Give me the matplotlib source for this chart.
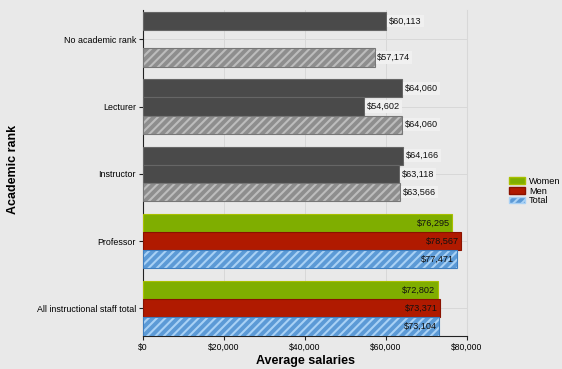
import numpy as np
import matplotlib.pyplot as plt
from matplotlib.patches import Patch

# data
categories = ['No academic rank', 'Lecturer', 'Instructor', 'Professor',
              'All instructional staff total']
women = [60113, 64060, 64166, 76295, 72802]
men = [np.nan, 54602, 63118, 78567, 73371]
total = [57174, 64060, 63566, 77471, 73104]
highlighted = [False, False, False, True, True]
x_ticks = [0, 20000, 40000, 60000, 80000]

bg = '#e9e9e9'
plt.rcParams['font.family'] = ['Liberation Sans', 'DejaVu Sans']
plt.rcParams['hatch.linewidth'] = 1.5

fig = plt.figure(figsize=(5.62, 3.69), dpi=100, facecolor=bg)
ax = fig.add_axes([143 / 562, 33 / 369, 324 / 562, 326 / 369], facecolor=bg)

h = 0.27
y = np.arange(len(categories))

def label(val, ypos, inside):
    txt = '${:,.0f}'.format(val)
    if inside:
        ax.text(val - 600, ypos, txt, ha='right', va='center', fontsize=6.6, color='#111111', zorder=5)
    else:
        ax.text(val + 700, ypos, txt, ha='left', va='center', fontsize=6.6, color='#111111', zorder=5,
                bbox=dict(boxstyle='square,pad=0.2', fc='#f0f0f0', ec='none'))

for i, cat in enumerate(categories):
    hi = highlighted[i]
    c_w = '#7fae00' if hi else '#4a4a4a'
    c_m = '#b01a00' if hi else '#4a4a4a'
    c_t = '#5c9ad6' if hi else '#8e8e8e'
    c_th = '#a9d1f5' if hi else '#bdbdbd'
    e_w = '#a8c000' if hi else '#666666'
    e_m = '#8a1200' if hi else '#666666'
    e_t = '#3f7fc0' if hi else '#777777'

    ax.barh(y[i] - h, women[i], height=h, color=c_w, edgecolor=e_w, lw=0.8, zorder=3)
    if not np.isnan(men[i]):
        ax.barh(y[i], men[i], height=h, color=c_m, edgecolor=e_m, lw=0.8, zorder=3)
    ax.barh(y[i] + h, total[i], height=h, color=c_t, edgecolor=c_th, hatch='////', lw=0, zorder=3)
    ax.barh(y[i] + h, total[i], height=h, fill=False, edgecolor=e_t, lw=0.8, zorder=4)

    label(women[i], y[i] - h, hi)
    if not np.isnan(men[i]):
        label(men[i], y[i], hi)
    label(total[i], y[i] + h, hi)

ax.set_xlim(0, 80000)
ax.set_ylim(len(categories) - 1 + 1.5 * h + 0.005, -1.5 * h - 0.03)
ax.set_yticks(y)
ax.set_yticklabels(categories, fontsize=6.4)
ax.set_xticks(x_ticks)
ax.set_xticklabels(['${:,.0f}'.format(v) for v in x_ticks], fontsize=6.2)
ax.tick_params(axis='both', length=3, width=0.8, color='#222222', pad=2)

ax.grid(True, color='#d8d8d8', lw=0.7, zorder=0)
ax.spines['top'].set_visible(False)
ax.spines['right'].set_color('#d8d8d8')
ax.spines['left'].set_color('#222222')
ax.spines['bottom'].set_color('#222222')

fig.text(305 / 562, 1 - 361 / 369, 'Average salaries', ha='center', va='center',
         fontsize=9, fontweight='bold')
fig.text(13 / 562, 1 - 169 / 369, 'Academic rank', rotation=90, ha='center', va='center',
         fontsize=9, fontweight='bold')

handles = [Patch(facecolor='#7fae00', edgecolor='#a8c000', label='Women'),
           Patch(facecolor='#b01a00', edgecolor='#8a1200', label='Men'),
           Patch(facecolor='#5c9ad6', edgecolor='#a9d1f5', hatch='////', label='Total')]
fig.legend(handles=handles, loc='center left', bbox_to_anchor=(505 / 562, 1 - 191 / 369),
           frameon=False, fontsize=6.6, handlelength=1.8, handleheight=0.7,
           labelspacing=0.1, handletextpad=0.4, borderaxespad=0)

plt.savefig('out.png', dpi=100, facecolor=bg)
